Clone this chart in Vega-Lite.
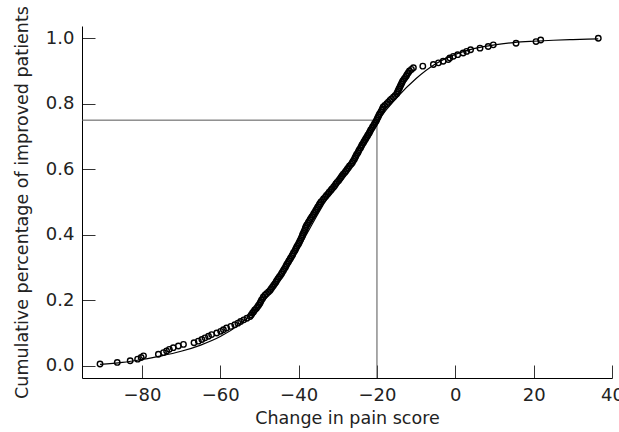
{
  "$schema": "https://vega.github.io/schema/vega-lite/v6.json",
  "width": 530,
  "height": 352,
  "autosize": "none",
  "padding": {"left": 82, "top": 26, "right": 7, "bottom": 54},
  "background": "white",
  "config": {
    "view": {"stroke": null},
    "font": "DejaVu Sans",
    "axis": {
      "grid": false,
      "domainColor": "black",
      "domainWidth": 1,
      "tickColor": "#333",
      "tickWidth": 1,
      "tickSize": -13,
      "labelFont": "DejaVu Sans",
      "labelFontSize": 18,
      "labelColor": "#222",
      "titleFont": "DejaVu Sans",
      "titleFontSize": 17.5,
      "titleFontWeight": "normal",
      "titleColor": "#222"
    }
  },
  "datasets": {
    "pts": [
      {"change": -90.7, "cum": 0.005}, {"change": -86.3, "cum": 0.010}, {"change": -83.0, "cum": 0.015}, {"change": -81.1, "cum": 0.020},
      {"change": -80.2, "cum": 0.025}, {"change": -79.6, "cum": 0.030}, {"change": -75.8, "cum": 0.035}, {"change": -74.5, "cum": 0.040},
      {"change": -73.7, "cum": 0.045}, {"change": -73.0, "cum": 0.050}, {"change": -72.0, "cum": 0.055}, {"change": -70.7, "cum": 0.060},
      {"change": -69.4, "cum": 0.065}, {"change": -66.7, "cum": 0.070}, {"change": -65.6, "cum": 0.075}, {"change": -64.7, "cum": 0.080},
      {"change": -63.9, "cum": 0.085}, {"change": -63.0, "cum": 0.090}, {"change": -62.2, "cum": 0.095}, {"change": -60.9, "cum": 0.100},
      {"change": -59.9, "cum": 0.105}, {"change": -59.2, "cum": 0.110}, {"change": -58.4, "cum": 0.115}, {"change": -57.3, "cum": 0.120},
      {"change": -56.3, "cum": 0.125}, {"change": -55.5, "cum": 0.130}, {"change": -54.8, "cum": 0.135}, {"change": -54.0, "cum": 0.140},
      {"change": -53.2, "cum": 0.145}, {"change": -52.4, "cum": 0.150}, {"change": -52.1, "cum": 0.155}, {"change": -51.8, "cum": 0.160},
      {"change": -51.5, "cum": 0.165}, {"change": -51.2, "cum": 0.170}, {"change": -50.8, "cum": 0.175}, {"change": -50.5, "cum": 0.180},
      {"change": -50.2, "cum": 0.185}, {"change": -49.9, "cum": 0.190}, {"change": -49.7, "cum": 0.195}, {"change": -49.5, "cum": 0.200},
      {"change": -49.2, "cum": 0.205}, {"change": -49.0, "cum": 0.210}, {"change": -48.6, "cum": 0.215}, {"change": -48.2, "cum": 0.220},
      {"change": -47.7, "cum": 0.225}, {"change": -47.3, "cum": 0.230}, {"change": -47.0, "cum": 0.235}, {"change": -46.7, "cum": 0.240},
      {"change": -46.4, "cum": 0.245}, {"change": -46.1, "cum": 0.250}, {"change": -45.8, "cum": 0.255}, {"change": -45.6, "cum": 0.260},
      {"change": -45.3, "cum": 0.265}, {"change": -45.0, "cum": 0.270}, {"change": -44.7, "cum": 0.275}, {"change": -44.4, "cum": 0.280},
      {"change": -44.2, "cum": 0.285}, {"change": -43.9, "cum": 0.290}, {"change": -43.7, "cum": 0.295}, {"change": -43.4, "cum": 0.300},
      {"change": -43.2, "cum": 0.305}, {"change": -43.0, "cum": 0.310}, {"change": -42.7, "cum": 0.315}, {"change": -42.5, "cum": 0.320},
      {"change": -42.2, "cum": 0.325}, {"change": -42.0, "cum": 0.330}, {"change": -41.7, "cum": 0.335}, {"change": -41.5, "cum": 0.340},
      {"change": -41.3, "cum": 0.345}, {"change": -41.0, "cum": 0.350}, {"change": -40.8, "cum": 0.355}, {"change": -40.6, "cum": 0.360},
      {"change": -40.4, "cum": 0.365}, {"change": -40.1, "cum": 0.370}, {"change": -39.9, "cum": 0.375}, {"change": -39.7, "cum": 0.380},
      {"change": -39.5, "cum": 0.385}, {"change": -39.3, "cum": 0.390}, {"change": -39.1, "cum": 0.395}, {"change": -39.0, "cum": 0.400},
      {"change": -38.8, "cum": 0.405}, {"change": -38.6, "cum": 0.410}, {"change": -38.4, "cum": 0.415}, {"change": -38.3, "cum": 0.420},
      {"change": -38.1, "cum": 0.425}, {"change": -37.9, "cum": 0.430}, {"change": -37.6, "cum": 0.435}, {"change": -37.4, "cum": 0.440},
      {"change": -37.1, "cum": 0.445}, {"change": -36.9, "cum": 0.450}, {"change": -36.6, "cum": 0.455}, {"change": -36.3, "cum": 0.460},
      {"change": -36.1, "cum": 0.465}, {"change": -35.8, "cum": 0.470}, {"change": -35.6, "cum": 0.475}, {"change": -35.3, "cum": 0.480},
      {"change": -35.1, "cum": 0.485}, {"change": -34.8, "cum": 0.490}, {"change": -34.6, "cum": 0.495}, {"change": -34.3, "cum": 0.500},
      {"change": -33.9, "cum": 0.505}, {"change": -33.6, "cum": 0.510}, {"change": -33.2, "cum": 0.515}, {"change": -32.9, "cum": 0.520},
      {"change": -32.5, "cum": 0.525}, {"change": -32.2, "cum": 0.530}, {"change": -31.8, "cum": 0.535}, {"change": -31.5, "cum": 0.540},
      {"change": -31.1, "cum": 0.545}, {"change": -30.8, "cum": 0.550}, {"change": -30.5, "cum": 0.555}, {"change": -30.2, "cum": 0.560},
      {"change": -29.8, "cum": 0.565}, {"change": -29.5, "cum": 0.570}, {"change": -29.2, "cum": 0.575}, {"change": -28.9, "cum": 0.580},
      {"change": -28.6, "cum": 0.585}, {"change": -28.2, "cum": 0.590}, {"change": -27.9, "cum": 0.595}, {"change": -27.6, "cum": 0.600},
      {"change": -27.3, "cum": 0.605}, {"change": -27.0, "cum": 0.610}, {"change": -26.6, "cum": 0.615}, {"change": -26.3, "cum": 0.620},
      {"change": -26.1, "cum": 0.625}, {"change": -25.8, "cum": 0.630}, {"change": -25.6, "cum": 0.635}, {"change": -25.4, "cum": 0.640},
      {"change": -25.2, "cum": 0.645}, {"change": -24.9, "cum": 0.650}, {"change": -24.7, "cum": 0.655}, {"change": -24.5, "cum": 0.660},
      {"change": -24.2, "cum": 0.665}, {"change": -24.0, "cum": 0.670}, {"change": -23.8, "cum": 0.675}, {"change": -23.5, "cum": 0.680},
      {"change": -23.3, "cum": 0.685}, {"change": -23.0, "cum": 0.690}, {"change": -22.8, "cum": 0.695}, {"change": -22.5, "cum": 0.700},
      {"change": -22.3, "cum": 0.705}, {"change": -22.0, "cum": 0.710}, {"change": -21.8, "cum": 0.715}, {"change": -21.6, "cum": 0.720},
      {"change": -21.3, "cum": 0.725}, {"change": -21.1, "cum": 0.730}, {"change": -20.8, "cum": 0.735}, {"change": -20.6, "cum": 0.740},
      {"change": -20.3, "cum": 0.745}, {"change": -20.1, "cum": 0.750}, {"change": -19.9, "cum": 0.755}, {"change": -19.7, "cum": 0.760},
      {"change": -19.5, "cum": 0.765}, {"change": -19.3, "cum": 0.770}, {"change": -19.0, "cum": 0.775}, {"change": -18.8, "cum": 0.780},
      {"change": -18.6, "cum": 0.785}, {"change": -18.4, "cum": 0.790}, {"change": -18.0, "cum": 0.795}, {"change": -17.5, "cum": 0.800},
      {"change": -17.1, "cum": 0.805}, {"change": -16.7, "cum": 0.810}, {"change": -16.3, "cum": 0.815}, {"change": -15.8, "cum": 0.820},
      {"change": -15.4, "cum": 0.825}, {"change": -15.0, "cum": 0.830}, {"change": -14.8, "cum": 0.835}, {"change": -14.6, "cum": 0.840},
      {"change": -14.4, "cum": 0.845}, {"change": -14.2, "cum": 0.850}, {"change": -14.0, "cum": 0.855}, {"change": -13.8, "cum": 0.860},
      {"change": -13.6, "cum": 0.865}, {"change": -13.4, "cum": 0.870}, {"change": -13.1, "cum": 0.875}, {"change": -12.8, "cum": 0.880},
      {"change": -12.5, "cum": 0.885}, {"change": -12.3, "cum": 0.890}, {"change": -12.0, "cum": 0.895}, {"change": -11.7, "cum": 0.900},
      {"change": -11.2, "cum": 0.905}, {"change": -10.7, "cum": 0.910}, {"change": -8.3, "cum": 0.915}, {"change": -5.6, "cum": 0.920},
      {"change": -4.3, "cum": 0.925}, {"change": -3.1, "cum": 0.930}, {"change": -1.8, "cum": 0.935}, {"change": -1.4, "cum": 0.940},
      {"change": -0.5, "cum": 0.945}, {"change": 0.6, "cum": 0.950}, {"change": 2.0, "cum": 0.955}, {"change": 2.9, "cum": 0.960},
      {"change": 3.9, "cum": 0.965}, {"change": 6.3, "cum": 0.970}, {"change": 8.4, "cum": 0.975}, {"change": 9.7, "cum": 0.980},
      {"change": 15.5, "cum": 0.985}, {"change": 20.6, "cum": 0.990}, {"change": 21.8, "cum": 0.995}, {"change": 36.5, "cum": 1.000}
    ],
    "fit": [
      {"change": -90.7, "cum": 0.004}, {"change": -85, "cum": 0.010}, {"change": -80, "cum": 0.019}, {"change": -75, "cum": 0.030},
      {"change": -70, "cum": 0.044}, {"change": -65, "cum": 0.063}, {"change": -60, "cum": 0.089}, {"change": -55, "cum": 0.127},
      {"change": -50, "cum": 0.182}, {"change": -45, "cum": 0.258}, {"change": -40, "cum": 0.358}, {"change": -35, "cum": 0.465},
      {"change": -30, "cum": 0.565}, {"change": -25, "cum": 0.657}, {"change": -20, "cum": 0.745}, {"change": -15, "cum": 0.818},
      {"change": -10, "cum": 0.877}, {"change": -5, "cum": 0.922}, {"change": 0, "cum": 0.951}, {"change": 5, "cum": 0.969},
      {"change": 10, "cum": 0.980}, {"change": 15, "cum": 0.987}, {"change": 20, "cum": 0.991}, {"change": 25, "cum": 0.994},
      {"change": 30, "cum": 0.996}, {"change": 36.5, "cum": 0.998}
    ],
    "refs": [
      {"x": -95.3, "x2": -20, "y": 0.75, "y2": 0.75},
      {"x": -20, "x2": -20, "y": -0.0376, "y2": 0.75}
    ]
  },
  "encoding": {
    "x": {
      "field": "change", "type": "quantitative",
      "scale": {"domain": [-95.3, 40], "nice": false, "zero": false},
      "axis": {"values": [-80, -60, -40, -20, 0, 20, 40], "title": "Change in pain score", "labelPadding": 21, "titlePadding": 5, "labelFlush": false}
    },
    "y": {
      "field": "cum", "type": "quantitative",
      "scale": {"domain": [-0.0376, 1.0376], "nice": false, "zero": false},
      "axis": {"values": [0, 0.2, 0.4, 0.6, 0.8, 1.0], "format": ".1f", "title": "Cumulative percentage of improved patients", "labelPadding": 21, "titlePadding": 14}
    }
  },
  "layer": [
    {
      "data": {"name": "refs"},
      "mark": {"type": "rule", "color": "#555", "strokeWidth": 1},
      "encoding": {
        "x": {"field": "x", "type": "quantitative"},
        "x2": {"field": "x2"},
        "y": {"field": "y", "type": "quantitative"},
        "y2": {"field": "y2"}
      }
    },
    {
      "data": {"name": "fit"},
      "mark": {"type": "line", "color": "black", "strokeWidth": 1.2, "interpolate": "monotone"},
      "encoding": {}
    },
    {
      "data": {"name": "pts"},
      "mark": {"type": "point", "shape": "circle", "filled": false, "stroke": "black", "strokeWidth": 1.4, "size": 30, "opacity": 1},
      "encoding": {}
    }
  ]
}
